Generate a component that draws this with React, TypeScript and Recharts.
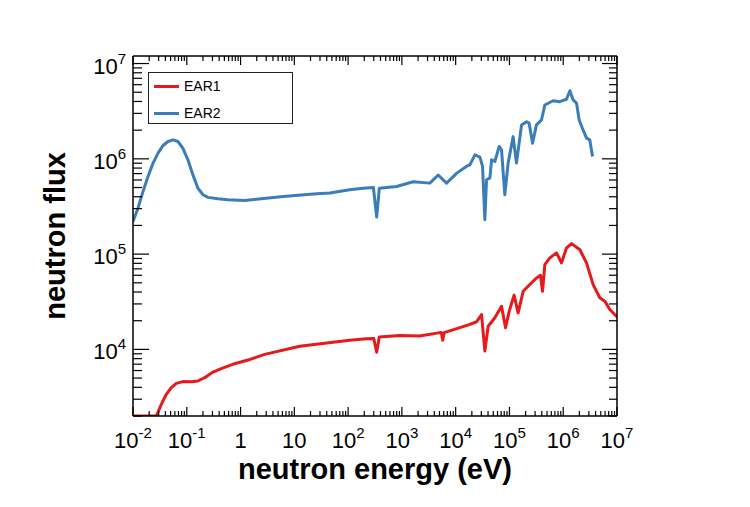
import { LineChart, Line, XAxis, YAxis, Label } from 'recharts'

const EAR1_ENERGY = [
  0.01, 0.0271, 0.0336, 0.0416, 0.0515, 0.0638, 0.0849, 0.121, 0.161, 0.215, 0.307, 0.438, 0.776, 1.37,
  2.81, 12.6, 52, 107, 219, 300, 340, 380, 912, 2140, 5080, 5400, 5750, 6100, 12000, 18400, 24400, 30300,
  34900, 40200, 53600, 71300, 84500, 98900, 122000, 145000, 180000, 239000, 318000, 378000, 412000,
  455000, 564000, 750000, 929000, 1150000, 1430000, 2040000, 2710000, 3600000, 4790000, 5930000,
  7350000, 9770000, 10000000,
]
const EAR1_FLUX = [
  2000, 2000, 2650, 3380, 3970, 4400, 4590, 4570, 4660, 5050, 5780, 6280, 7080, 7730,
  8870, 10800, 11900, 12500, 12900, 13000, 9330, 13500, 14000, 13800, 15000, 15000, 12500, 15000, 16900,
  18300, 19500, 23200, 9600, 17500, 21500, 28400, 16900, 25100, 37100, 24200, 40700, 47900, 56200, 60000,
  40700, 77600, 91200, 103000, 80900, 116000, 129000, 111000, 80900, 47900, 34800, 32100, 26200, 22300,
  22000,
]

const EAR2_ENERGY = [
  0.01, 0.0124, 0.01535, 0.019, 0.0236, 0.0292, 0.0362, 0.0448, 0.0554, 0.0686, 0.0849, 0.105, 0.13,
  0.161, 0.2, 0.248, 0.38, 0.583, 1.19, 6.2, 26, 46, 107, 190, 295, 340, 380, 795, 1620, 3310, 4730,
  6760, 10500, 15800, 18400, 22800, 28200, 31600, 34900, 37500, 43300, 46500, 53600, 64400, 71300,
  82000, 94600, 117000, 135000, 168000, 208000, 232000, 269000, 318000, 395000, 455000, 649000, 865000,
  1150000, 1330000, 1530000, 1770000, 1980000, 2340000, 2710000, 3120000, 3510000,
]
const EAR2_FLUX = [
  220000, 305000, 455000, 653000, 902000, 1150000, 1380000, 1520000, 1580000, 1520000, 1290000, 977000,
  679000, 493000, 420000, 394000, 381000, 372000, 366000, 403000, 430000, 438000, 473000, 492000, 500000,
  245000, 490000, 513000, 575000, 556000, 676000, 556000, 708000, 832000, 865000, 1100000, 1040000,
  832000, 230000, 603000, 631000, 977000, 938000, 1350000, 1240000, 420000, 902000, 1710000, 902000,
  2270000, 2450000, 2370000, 1460000, 2270000, 2560000, 3670000, 4070000, 3980000, 4220000, 5190000,
  4150000, 3830000, 2560000, 2010000, 1650000, 1580000, 1060000,
]

const X_DECADES = [1e-2, 1e-1, 1, 10, 1e2, 1e3, 1e4, 1e5, 1e6, 1e7]
const Y_DECADES = [1e3, 1e4, 1e5, 1e6, 1e7]
const MINOR_STEPS = [1, 2, 3, 4, 5, 6, 7, 8, 9]
const X_DOMAIN = [1e-2, 1e7]
const Y_DOMAIN = [2000, 1.2e7]

const RED = '#e41a1c'
const BLUE = '#3a7db8'
const FONT = '"Liberation Sans", Arial, Helvetica, sans-serif'

const ear1 = EAR1_ENERGY.map((energy, i) => ({ energy, flux: EAR1_FLUX[i] }))
const ear2 = EAR2_ENERGY.map((energy, i) => ({ energy, flux: EAR2_FLUX[i] }))
const series = [
  { name: 'EAR1', color: RED, data: ear1 },
  { name: 'EAR2', color: BLUE, data: ear2 },
]

const within = (v: number, d: number[]) => v >= d[0] * 0.999 && v <= d[1] * 1.001
const X_TICKS = X_DECADES.flatMap(d => MINOR_STEPS.map(m => d * m)).filter(v => within(v, X_DOMAIN))
const Y_TICKS = Y_DECADES.flatMap(d => MINOR_STEPS.map(m => d * m)).filter(v => within(v, Y_DOMAIN))

const isMajor = (v: number) => Math.abs(Math.log10(v) - Math.round(Math.log10(v))) < 1e-6

function PowerText({ x, y, v, anchor }: any) {
  const p = Math.round(Math.log10(v))
  return (
    <text x={x} y={y} textAnchor={anchor} fontFamily={FONT} fontSize={22} fill="#000">
      {p === 0 ? '1' : p === 1 ? '10' : (
        <>
          <tspan>10</tspan>
          <tspan dy={-10} fontSize={15}>{p}</tspan>
        </>
      )}
    </text>
  )
}

const tickStroke = { stroke: '#000', strokeWidth: 1.2 }

function BottomTick({ x, y, payload }: any) {
  const major = isMajor(payload.value)
  return (
    <g>
      <line x1={x} x2={x} y1={y} y2={y - (major ? 9 : 5)} {...tickStroke} />
      {major && <PowerText x={x} y={y + 32} v={payload.value} anchor="middle" />}
    </g>
  )
}

function TopTick({ x, y, payload }: any) {
  const major = isMajor(payload.value)
  return <line x1={x} x2={x} y1={y} y2={y + (major ? 9 : 5)} {...tickStroke} />
}

function LeftTick({ x, y, payload }: any) {
  const major = isMajor(payload.value)
  return (
    <g>
      <line x1={x} x2={x + (major ? 16 : 9)} y1={y} y2={y} {...tickStroke} />
      {major && <PowerText x={x - 7} y={y + 10} v={payload.value} anchor="end" />}
    </g>
  )
}

function RightTick({ x, y, payload }: any) {
  const major = isMajor(payload.value)
  return <line x1={x} x2={x - (major ? 15 : 8)} y1={y} y2={y} {...tickStroke} />
}

function XTitle({ viewBox }: any) {
  return (
    <text x={viewBox.x + viewBox.width / 2} y={viewBox.y + 63} textAnchor="middle"
      fontFamily={FONT} fontSize={29} fontWeight="bold" fill="#000">
      neutron energy (eV)
    </text>
  )
}

function YTitle({ viewBox }: any) {
  const x = viewBox.x - 8
  const y = viewBox.y + viewBox.height / 2
  return (
    <text x={x} y={y} transform={`rotate(-90, ${x}, ${y})`} textAnchor="middle"
      fontFamily={FONT} fontSize={29} fontWeight="bold" fill="#000">
      neutron flux
    </text>
  )
}

const axisLine = { stroke: '#000', strokeWidth: 1.5 }

export default function App() {
  return (
    <div style={{ position: 'absolute', left: 0, top: 0, width: 750, height: 507, background: '#fff' }}>
      <LineChart width={750} height={507} margin={{ top: 50, right: 127, bottom: 51, left: 73 }}>
        <XAxis xAxisId="bottom" dataKey="energy" type="number" scale="log" domain={X_DOMAIN}
          allowDataOverflow ticks={X_TICKS} interval={0} height={40} tickSize={0} tickMargin={0}
          tickLine={false} axisLine={axisLine} tick={BottomTick}>
          <Label content={XTitle} />
        </XAxis>
        <XAxis xAxisId="top" orientation="top" dataKey="energy" type="number" scale="log" domain={X_DOMAIN}
          allowDataOverflow ticks={X_TICKS} interval={0} height={6} tickSize={0} tickMargin={0}
          tickLine={false} axisLine={axisLine} tick={TopTick} />
        <YAxis yAxisId="left" type="number" scale="log" domain={Y_DOMAIN} allowDataOverflow
          ticks={Y_TICKS} interval={0} width={60} tickSize={0} tickMargin={0}
          tickLine={false} axisLine={axisLine} tick={LeftTick}>
          <Label content={YTitle} />
        </YAxis>
        <YAxis yAxisId="right" orientation="right" type="number" scale="log" domain={Y_DOMAIN} allowDataOverflow
          ticks={Y_TICKS} interval={0} width={6} tickSize={0} tickMargin={0}
          tickLine={false} axisLine={axisLine} tick={RightTick} />
        {series.map(s => (
          <Line key={s.name} xAxisId="bottom" yAxisId="left" data={s.data} dataKey="flux" name={s.name}
            type="linear" stroke={s.color} strokeWidth={3} strokeLinejoin="round" dot={false}
            isAnimationActive={false} />
        ))}
      </LineChart>
      <div style={{
        position: 'absolute', left: 148, top: 72, width: 143, height: 50,
        border: '1px solid #222', background: '#fff', fontFamily: FONT, fontSize: 14,
      }}>
        {series.map((s, i) => (
          <div key={s.name} style={{ position: 'absolute', left: 5, top: 4 + i * 27, height: 18, display: 'flex', alignItems: 'center' }}>
            <span style={{ display: 'inline-block', width: 25, height: 3, background: s.color }} />
            <span style={{ marginLeft: 5, color: '#000' }}>{s.name}</span>
          </div>
        ))}
      </div>
    </div>
  )
}
